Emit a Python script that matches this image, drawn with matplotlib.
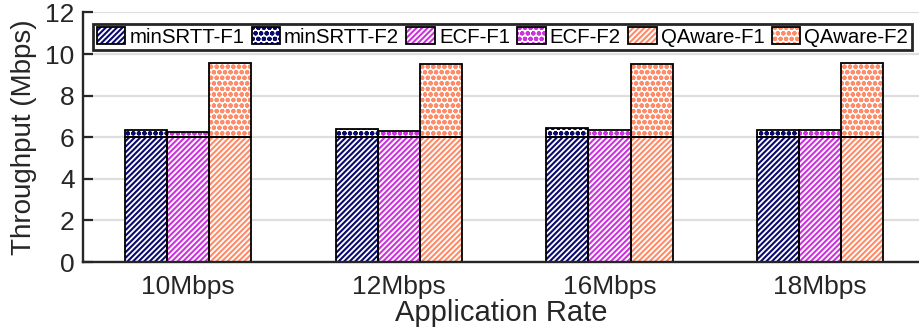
import numpy as np
import matplotlib
matplotlib.use('Agg')
import matplotlib.pyplot as plt
from matplotlib.patches import Patch

plt.rcParams['font.family'] = ['Liberation Sans', 'DejaVu Sans']
plt.rcParams['hatch.linewidth'] = 1.5

rates = ['10Mbps', '12Mbps', '16Mbps', '18Mbps']
schemes = ['minSRTT', 'ECF', 'QAware']
colors = ['#0a0a6e', '#cc33dd', '#ff8c69']

f1 = {
    'minSRTT': [6.0, 6.0, 6.0, 6.0],
    'ECF': [6.0, 6.0, 6.0, 6.0],
    'QAware': [6.0, 6.0, 6.0, 6.0],
}
f2 = {
    'minSRTT': [0.35, 0.39, 0.46, 0.35],
    'ECF': [0.23, 0.31, 0.33, 0.35],
    'QAware': [3.55, 3.52, 3.52, 3.55],
}

fig = plt.figure(figsize=(9.19, 3.36), dpi=100)
ax = fig.add_axes([0.0903, 0.220, 0.9097, 0.743])

x = np.arange(1, len(rates) + 1)
w = 0.2
hatch1 = '//////'
hatch2 = 'ooo'

handles = []
labels = []
for i, s in enumerate(schemes):
    pos = x + (i - 1) * w
    c = colors[i]
    # hatched fill in the scheme colour, black outline on top
    ax.bar(pos, f1[s], w, color='white', edgecolor=c, hatch=hatch1, linewidth=0, zorder=2)
    ax.bar(pos, f1[s], w, fill=False, edgecolor='black', linewidth=1.3, zorder=3)
    ax.bar(pos, f2[s], w, bottom=f1[s], color='white', edgecolor=c, hatch=hatch2, linewidth=0, zorder=2)
    ax.bar(pos, f2[s], w, bottom=f1[s], fill=False, edgecolor='black', linewidth=1.3, zorder=3)
    for h in [hatch1, hatch2]:
        handles.append((Patch(facecolor='white', edgecolor=c, hatch=h, linewidth=0),
                        Patch(fill=False, edgecolor='black', linewidth=1.3)))
    labels += [s + '-F1', s + '-F2']

ax.set_xlim(0.5, 4.47)
ax.set_ylim(0, 12)
ax.set_yticks(range(0, 13, 2))
ax.set_xticks(x)
ax.set_xticklabels(rates)
ax.yaxis.grid(True, color='#dedede', linewidth=1.6, zorder=0)
ax.set_axisbelow(True)

for sp in ['top', 'right']:
    ax.spines[sp].set_visible(False)
for sp in ['left', 'bottom']:
    ax.spines[sp].set_linewidth(1.7)
    ax.spines[sp].set_color('#262626')
    ax.spines[sp].set_zorder(4)

ax.tick_params(axis='y', direction='in', length=7, width=1.6, colors='#262626',
               labelsize=19, pad=6)
ax.tick_params(axis='x', length=0, colors='#262626', labelsize=19, pad=9)
ax.set_xlabel('Application Rate', fontsize=21, color='#262626', labelpad=0)
ax.set_ylabel('Throughput (Mbps)', fontsize=20, color='#262626', labelpad=6)

leg = ax.legend(handles, labels, ncol=6, loc='upper left', bbox_to_anchor=(0.012, 0.955),
                borderaxespad=0, fontsize=14.7, handlelength=1.4, handleheight=0.85,
                handletextpad=0.2, columnspacing=0.35, borderpad=0.18,
                fancybox=False, framealpha=1)
leg.get_frame().set_edgecolor('#262626')
leg.get_frame().set_linewidth(2.0)

fig.savefig('out.png', dpi=100)
